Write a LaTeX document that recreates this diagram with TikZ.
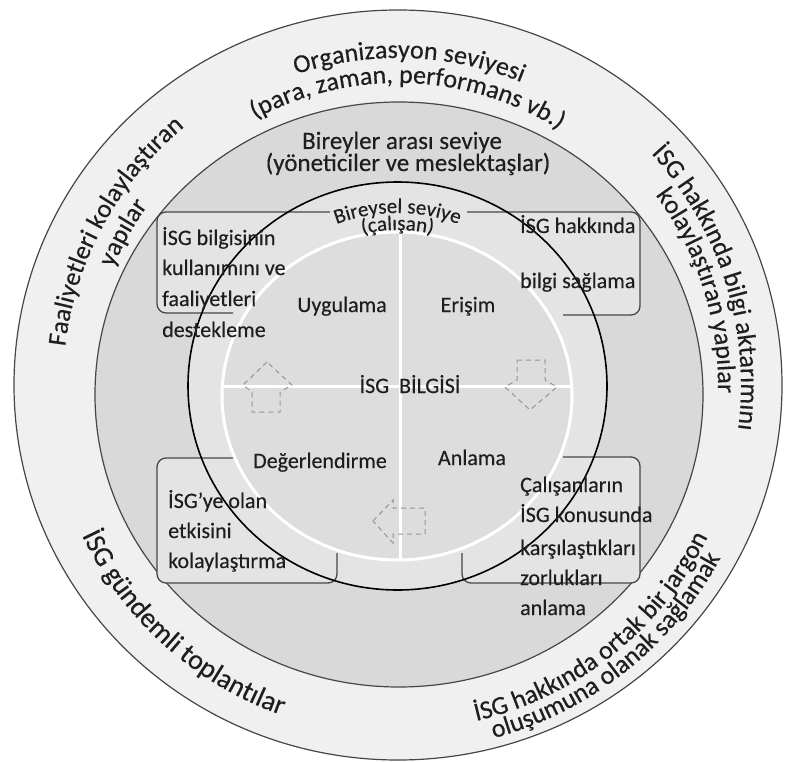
\documentclass[tikz,border=0pt]{standalone}
\usepackage{fontspec}
\setmainfont{Carlito}[FakeBold=0.3]
\usetikzlibrary{decorations.text}
\definecolor{dishalka}{RGB}{240,240,240}
\definecolor{ortahalka}{RGB}{217,217,217}
\definecolor{ichalka}{RGB}{228,228,228}
\definecolor{merkez}{RGB}{221,221,221}
\definecolor{cizgi}{RGB}{70,70,70}
\definecolor{yazi}{RGB}{30,30,30}
\definecolor{okgri}{RGB}{150,150,150}
\newcommand\halka{\fontsize{26}{30}\selectfont\color{yazi}}
\newcommand\buyukhalka{\fontsize{28}{32}\selectfont\color{yazi}}
\newcommand\bireysel{\fontsize{21}{25}\selectfont\color{yazi}}

\begin{document}
\begin{tikzpicture}[x=1pt, y=1pt,
  ring/.style={draw=cizgi, line width=1.2pt}, % halka cizgisi
  kutu/.style={draw=cizgi, line width=1.3pt, rounded corners=9pt}, % kutu kenari
  ok/.style={draw=okgri, line width=1pt, dash pattern=on 5pt off 4pt}, % kesikli ok
  etiket/.style={text=yazi, font=\fontsize{22}{26}\selectfont, inner sep=0pt, anchor=base},
  sol/.style={etiket, anchor=base west},
  egri/.style={decorate, decoration={text along path, text align=center, text={#1}}},
]
\useasboundingbox (0,0) rectangle (792,-762);

% halkalar
\filldraw[ring, fill=dishalka] (398,-385) ellipse [x radius=384, y radius=375];
\filldraw[ring, fill=ortahalka] (399,-394.5) ellipse [x radius=304, y radius=292.5];
\fill[ichalka] (397.5,-386) ellipse [x radius=209.5, y radius=204];

% kutular
\fill[ichalka, rounded corners=9pt] (157,-212) rectangle (340,-313);
\fill[ichalka, rounded corners=9pt] (462,-212) rectangle (640,-315);
\fill[ichalka, rounded corners=9pt] (157,-458) rectangle (337,-583);
\fill[ichalka, rounded corners=9pt] (462,-457) rectangle (640,-583);
\draw[kutu] (330,-212) -- (157,-212) -- (157,-313) -- (233,-313);
\draw[kutu] (467,-212) -- (640,-212) -- (640,-315) -- (563,-315);
\draw[kutu] (233,-458) -- (157,-458) -- (157,-583) -- (337,-583) -- (337,-553);
\draw[kutu] (563,-457) -- (640,-457) -- (640,-583) -- (462,-583) -- (462,-553);

% ic daire
\filldraw[draw=white, line width=3pt, fill=merkez] (397,-396) ellipse [x radius=175, y radius=164];
\draw[black, line width=1.6pt] (397.5,-386) ellipse [x radius=209.5, y radius=204];
\draw[white, line width=3pt] (222,-386) -- (572,-386);
\draw[white, line width=3pt] (400,-232) -- (400,-560);

% oklar
\draw[ok] (267,-362) -- (243,-385) -- (252,-392) -- (252,-412) -- (280,-412) -- (280,-392) -- (292,-385) -- cycle;
\draw[ok] (517,-360) -- (545,-360) -- (545,-380) -- (557,-387) -- (530,-410) -- (505,-387) -- (517,-380) -- cycle;
\draw[ok] (373,-521) -- (393,-500) -- (393,-508) -- (425,-508) -- (425,-534) -- (393,-534) -- (393,-543) -- cycle;

% egri yazilar
\path[egri={|\halka|Organizasyon seviyesi}] (398,-385) ++(158:327) arc[start angle=158, end angle=18, radius=327];
\path[egri={|\halka|(para, zaman, performans vb.)}] (398,-385) ++(158:302) arc[start angle=158, end angle=18, radius=302];
\path[egri={|\halka|Faaliyetleri kolaylaştıran}] (398,-385) ++(200:335) arc[start angle=200, end angle=103, radius=335];
\path[egri={|\halka|yapılar}] (398,-385) ++(201:308) arc[start angle=201, end angle=101, radius=308];
\path[egri={|\halka|İSG hakkında bilgi aktarımını}] (398,-385) ++(65:343) arc[start angle=65, end angle=-30, radius=343];
\path[egri={|\halka|kolaylaştıran yapılar}] (398,-385) ++(65:320) arc[start angle=65, end angle=-30, radius=320];
\path[egri={|\buyukhalka|İSG gündemli toplantılar}] (398,-385) ++(171:350) arc[start angle=171, end angle=285, radius=350];
\path[egri={|\halka|İSG hakkında ortak bir jargon}] (398,-385) ++(-100:345) arc[start angle=-100, end angle=-3, radius=345];
\path[egri={|\halka|oluşumuna olanak sağlamak}] (398,-385) ++(-100:366) arc[start angle=-100, end angle=-3, radius=366];
\path[egri={|\bireysel|Bireysel seviye}] (397.5,-386) ++(150:173) arc[start angle=150, end angle=30, radius=173];
\path[egri={|\bireysel|(çalışan)}] (397.5,-386) ++(150:156) arc[start angle=150, end angle=30, radius=156];

% duz yazilar
\node[etiket, font=\fontsize{25}{29}\selectfont] (bireyler) at (402,-149) {Bireyler arası seviye};
\node[etiket, font=\fontsize{25}{29}\selectfont] (yonetici) at (408,-171) {(yöneticiler ve meslektaşlar)};
\node[etiket] (bilgi) at (410,-393) {İSG\ \ BİLGİSİ};
\node[etiket] (uygulama) at (342,-312) {Uygulama};
\node[etiket] (erisim) at (468,-312) {Erişim};
\node[etiket] (degerlendirme) at (320,-468) {Değerlendirme};
\node[etiket] (anlama) at (472,-465) {Anlama};

\node[sol] (ul1) at (162,-245) {İSG bilgisinin};
\node[sol] (ul2) at (162,-275) {kullanımını ve};
\node[sol] (ul3) at (162,-306) {faaliyetleri};
\node[sol] (ul4) at (162,-337) {destekleme};

\node[sol] (er1) at (520,-233) {İSG hakkında};
\node[sol] (er2) at (520,-288) {bilgi sağlama};

\node[sol] (de1) at (168,-508) {İSG’ye olan};
\node[sol] (de2) at (168,-538) {etkisini};
\node[sol] (de3) at (168,-568) {kolaylaştırma};

\node[sol] (an1) at (520,-492) {Çalışanların};
\node[sol] (an2) at (520,-522) {İSG konusunda};
\node[sol] (an3) at (520,-555) {karşılaştıkları};
\node[sol] (an4) at (520,-585) {zorlukları};
\node[sol] (an5) at (520,-615) {anlama};
\end{tikzpicture}
\end{document}
